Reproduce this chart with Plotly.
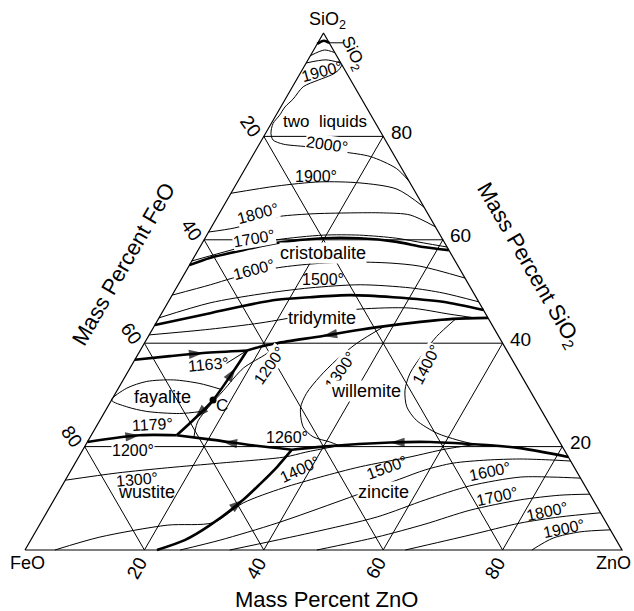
import math
import plotly.graph_objects as go

R3 = math.sqrt(3) / 2

# ---------------- data: each point is (mass % ZnO, mass % SiO2); mass % FeO = 100 - ZnO - SiO2 -------------
tick_values = [20, 40, 60, 80]
tick_text = ["20", "40", "60", "80"]

# thin liquidus isotherms
iso_apex_a = [(0.0, 95.6), (1.8, 96.7), (3.8, 96.2)]
iso_apex_1900 = [(0.0, 94.2), (3.0, 94.8), (5.8, 94.2)]
iso_2000_gap = [(6.2, 93.8), (6.1, 92.8), (5.4, 91.9), (3.7, 90.9), (1.8, 89.6), (1.3, 87.2), (0.7, 85.7),
                (0.6, 84.1), (0.3, 82.5), (0.9, 80.6), (1.9, 79.3), (4.0, 78.5), (8.2, 78.0), (14.8, 77.0),
                (19.8, 76.1), (25.3, 73.8), (28.7, 71.3)]
iso_1900 = [(0.0, 69.0), (7.0, 70.4), (13.8, 71.2), (20.6, 71.0), (27.4, 69.8), (33.7, 66.3)]
iso_1800 = [(0.0, 61.5), (4.0, 62.3), (9.7, 64.4), (15.2, 65.0), (21.9, 65.2), (27.4, 65.2), (32.1, 64.8), (37.5, 62.5)]
iso_1700 = [(0.0, 55.9), (7.2, 58.6), (12.2, 60.0), (19.5, 60.9), (25.6, 60.9), (32.1, 60.3), (37.0, 59.4), (41.4, 58.6)]
iso_1600 = [(0.0, 49.3), (5.4, 51.3), (8.5, 52.6), (14.6, 54.5), (20.1, 55.3), (26.6, 55.7), (33.4, 55.5),
            (38.7, 54.9), (47.4, 52.6)]
iso_1500 = [(0.0, 44.9), (7.1, 47.8), (14.6, 49.5), (22.4, 50.7), (30.5, 51.3), (39.2, 50.7), (45.2, 49.7), (52.0, 48.0)]
iso_1400_trid = [(0.0, 41.6), (9.6, 42.7), (17.4, 43.9), (25.0, 45.5), (32.8, 46.6), (41.1, 46.8), (48.4, 45.6),
                 (52.9, 44.9)]
iso_1200_fay = [(17.2, 31.1), (13.2, 32.2), (8.4, 32.9), (4.1, 32.6), (1.4, 31.3), (0.0, 29.0), (3.2, 27.7),
                (7.0, 26.8), (12.7, 26.4), (16.2, 26.8)]
iso_1200_wil = [(22.6, 40.2), (21.5, 38.0), (19.0, 35.2), (17.8, 30.8), (16.9, 27.5), (16.5, 25.0), (16.9, 23.2),
                (17.4, 21.8)]
iso_1300_wus = [(0.0, 13.5), (8.0, 14.9), (15.9, 15.9), (24.2, 16.8), (34.6, 18.0), (37.5, 18.9), (42.5, 20.2)]
iso_1300_wil = [(42.5, 20.2), (40.6, 20.9), (37.3, 21.9), (34.7, 23.8), (32.4, 27.5), (32.0, 30.3), (32.6, 33.5),
                (33.8, 36.8), (35.6, 40.0), (38.6, 43.3)]
iso_1400_zn = [(5.0, 0.0), (11.3, 2.5), (21.4, 4.8), (28.9, 5.3), (32.0, 9.1), (37.2, 12.0), (42.4, 14.1),
               (48.1, 16.1), (55.5, 18.0), (60.6, 19.5), (65.2, 20.4)]
iso_1400_wil = [(49.8, 44.7), (48.3, 41.3), (47.7, 38.0), (47.4, 34.2), (48.2, 30.9), (50.1, 27.7), (53.0, 25.1),
                (57.7, 22.6), (61.7, 21.3), (65.2, 20.4)]
iso_1500_zn = [(26.0, 0.0), (31.7, 1.9), (39.6, 5.2), (48.4, 9.7), (55.9, 13.7), (59.3, 15.5), (63.3, 16.8),
               (68.7, 17.4), (74.1, 17.6), (79.7, 17.4), (82.8, 17.2)]
iso_1600_zn = [(34.3, 0.0), (46.1, 3.3), (55.8, 6.4), (62.2, 9.7), (68.3, 12.4), (75.9, 14.1), (81.4, 14.1), (86.1, 13.9)]
iso_1700_zn = [(48.9, 0.0), (57.7, 2.5), (64.5, 5.0), (70.7, 7.7), (78.1, 9.7), (84.3, 10.6), (89.2, 10.8)]
iso_1800_zn = [(63.7, 0.0), (73.1, 2.9), (80.3, 5.2), (86.4, 6.4), (92.8, 7.2)]
iso_1900_zn = [(84.9, 0.0), (87.3, 2.3), (91.2, 3.5), (96.1, 3.9)]

# thick phase-field boundaries
bnd_apex = [(0.0, 97.9), (0.8, 98.5), (1.9, 98.1)]
bnd_upper = [(0.0, 55.1), (2.7, 56.5), (7.5, 58.0), (12.5, 59.4), (19.7, 60.3), (25.9, 60.3), (32.5, 59.6),
             (37.4, 58.6), (42.0, 58.0)]
bnd_cris_trid = [(0.0, 43.5), (8.1, 45.8), (12.9, 47.2), (18.0, 48.4), (23.3, 48.9), (29.8, 49.3), (37.2, 48.9),
                 (46.0, 48.0), (53.6, 46.4)]
bnd_trid_wil = [(55.1, 44.9), (49.3, 44.7), (39.9, 43.5), (34.8, 42.6), (29.2, 41.4), (22.2, 40.0), (19.7, 39.3),
                (17.9, 38.6)]
bnd_trid_fay = [(0.0, 36.8), (5.5, 37.5), (10.8, 38.1), (17.9, 38.6)]
bnd_fay_wil = [(14.3, 22.2), (15.6, 25.1), (17.0, 29.0), (17.7, 35.5), (17.9, 38.6)]
bnd_wus_fay = [(0.0, 20.9), (8.1, 22.2), (14.3, 22.2)]
bnd_wus_wil = [(14.3, 22.2), (20.9, 21.3), (27.5, 20.3), (35.0, 19.4)]
bnd_zn_wil = [(35.0, 19.4), (39.9, 20.0), (50.8, 20.8), (57.4, 20.9), (67.2, 20.3), (73.1, 19.7), (82.0, 18.0)]
bnd_zn_wus = [(22.1, 0.0), (25.8, 1.9), (28.6, 4.8), (31.7, 9.7), (33.0, 12.8), (34.2, 16.1), (35.0, 19.4)]

# arrows on boundaries: (point before, arrow tip)
arrows = [((34.8, 42.6), (29.2, 41.4)), ((5.5, 37.5), (10.8, 38.1)), ((17.0, 29.0), (17.7, 35.2)),
          ((17.0, 29.0), (15.7, 25.5)), ((4.0, 21.6), (8.1, 22.2)), ((27.5, 20.3), (22.7, 20.9)),
          ((57.4, 20.9), (50.8, 20.8)), ((28.6, 4.8), (31.7, 9.7))]
point_C = [(17.0, 29.0)]
leader_1163 = [(15.7, 36.1), (17.9, 38.6)]
leader_sio2 = [(1.9, 98.1), (4.2, 98.1)]

# text labels: (text, ZnO, SiO2, angle, masked, size)
labels = [
    ("two\u00a0\u00a0liquids", 8.9, 82.8, 0, True, 17), ("2000°", 11.3, 78.5, 8, True, 16),
    ("1900°", 3.4, 92.6, -15, False, 16), ("SiO<sub>2</sub>", 6.9, 96.0, 65, False, 17),
    ("1900°", 12.6, 72.3, 0, False, 16), ("1800°", 6.5, 65.0, -15, True, 16),
    ("1700°", 8.2, 60.3, -10, True, 16), ("cristobalite", 21.2, 57.4, 0, True, 18),
    ("1600°", 11.3, 54.2, -15, True, 16), ("1500°", 23.7, 52.4, 0, False, 16),
    ("tridymite", 27.3, 44.9, 0, True, 18), ("1163°", 12.8, 35.8, -5, False, 16),
    ("1200°", 23.2, 35.6, -55, True, 16), ("1300°", 35.4, 34.8, -55, True, 16),
    ("1400°", 49.4, 35.8, -62, True, 16), ("fayalite", 8.3, 29.6, 0, False, 18),
    ("C", 19.0, 28.0, 0, False, 17), ("willemite", 41.7, 30.8, 0, True, 18),
    ("1179°", 9.3, 24.2, -3, False, 16), ("1200°", 8.4, 19.3, 0, True, 16),
    ("1260°", 33.1, 21.7, 0, False, 16), ("1300°", 11.9, 13.7, -5, False, 16),
    ("wustite", 14.7, 11.2, 0, False, 18), ("1400°", 38.3, 15.5, -25, False, 16),
    ("1500°", 52.7, 15.9, -20, False, 16), ("zincite", 54.4, 11.2, 0, True, 18),
    ("1600°", 70.3, 15.1, -12, False, 16), ("1700°", 73.8, 10.4, -12, False, 16),
    ("1800°", 83.7, 7.5, -12, False, 16), ("1900°", 88.3, 4.1, -12, False, 16),
]

# ---------------- drawing ----------------
FONT = "Liberation Sans, Arial, sans-serif"


def to_xy(pts):
    xs = [z + s / 2 if z is not None else None for z, s in pts]
    ys = [s * R3 if s is not None else None for z, s in pts]
    return xs, ys


fig = go.Figure()


def add_line(pts, width, shape="spline"):
    x, y = to_xy(pts)
    fig.add_trace(go.Scatter(x=x, y=y, mode="lines", line=dict(color="black", width=width, shape=shape,
                                                                 smoothing=0.8), hoverinfo="skip"))


# grid
grid = []
for v in tick_values:
    grid += [(0, v), (100 - v, v), (None, None)]
    grid += [(v, 0), (v, 100 - v), (None, None)]
    grid += [(100 - v, 0), (0, 100 - v), (None, None)]
add_line(grid, 1, "linear")
add_line([(0, 0), (100, 0), (0, 100), (0, 0)], 1.2, "linear")

for c in [iso_apex_a, iso_apex_1900, iso_2000_gap, iso_1900, iso_1800, iso_1700, iso_1600, iso_1500,
          iso_1400_trid, iso_1200_fay, iso_1200_wil, iso_1300_wus, iso_1300_wil, iso_1400_zn, iso_1400_wil,
          iso_1500_zn, iso_1600_zn, iso_1700_zn, iso_1800_zn, iso_1900_zn]:
    add_line(c, 1)
for c in [leader_1163, leader_sio2]:
    add_line(c, 1, "linear")
for c in [bnd_apex, bnd_upper, bnd_cris_trid, bnd_trid_wil, bnd_trid_fay, bnd_fay_wil, bnd_wus_fay,
          bnd_wus_wil, bnd_zn_wil, bnd_zn_wus]:
    add_line(c, 2.6)

for prev, tip in arrows:
    x, y = to_xy([prev, tip])
    fig.add_trace(go.Scatter(x=x, y=y, mode="markers", hoverinfo="skip",
                             marker=dict(symbol="arrow", size=[0, 15], angleref="previous", color="black",
                                         line=dict(width=0))))
x, y = to_xy(point_C)
fig.add_trace(go.Scatter(x=x, y=y, mode="markers", marker=dict(size=7, color="black"), hoverinfo="skip"))

ann = []
for text, z, s, ang, masked, size in labels:
    x, y = to_xy([(z, s)])
    ann.append(dict(x=x[0], y=y[0], text=text, showarrow=False, textangle=ang,
                    font=dict(family=FONT, size=size, color="black"),
                    bgcolor="white" if masked else "rgba(0,0,0,0)", borderpad=0))

for v, t in zip(tick_values, tick_text):
    x, y = to_xy([(v, 0)])
    ann.append(dict(x=x[0], y=y[0], text=t, showarrow=False, textangle=-60, xshift=-8, yshift=-18,
                    font=dict(family=FONT, size=19, color="black")))
    x, y = to_xy([(0, 100 - v)])
    ann.append(dict(x=x[0], y=y[0], text=t, showarrow=False, textangle=55, xshift=-13, yshift=10,
                    font=dict(family=FONT, size=19, color="black")))
    x, y = to_xy([(100 - v, v)])
    ann.append(dict(x=x[0], y=y[0], text=t, showarrow=False, xshift=18, yshift=4,
                    font=dict(family=FONT, size=19, color="black")))

corner = [("SiO<sub>2</sub>", (0, 100), 4, 12), ("FeO", (0, 0), 2, -13), ("ZnO", (100, 0), -9, -13)]
for text, p, dx, dy in corner:
    x, y = to_xy([p])
    ann.append(dict(x=x[0], y=y[0], text=text, showarrow=False, xshift=dx, yshift=dy,
                    font=dict(family=FONT, size=18, color="black")))

titles = [("Mass Percent ZnO", (50, 0), 0, 3, -49), ("Mass Percent FeO", (0, 50), -60, -51, 27),
          ("Mass Percent SiO<sub>2</sub>", (50, 50), 60, 55, 26)]
for text, p, ang, dx, dy in titles:
    x, y = to_xy([p])
    ann.append(dict(x=x[0], y=y[0], text=text, showarrow=False, textangle=ang, xshift=dx, yshift=dy,
                    font=dict(family=FONT, size=22, color="black")))

W, H = 634, 611
PX = 5.97
fig.update_layout(
    width=W, height=H, autosize=False, showlegend=False,
    margin=dict(l=0, r=0, t=0, b=0, pad=0),
    paper_bgcolor="white", plot_bgcolor="white",
    xaxis=dict(visible=False, range=[-25 / PX, (W - 25) / PX], fixedrange=True),
    yaxis=dict(visible=False, range=[-(H - 550) / PX, 550 / PX], fixedrange=True),
    annotations=ann,
)
fig.write_html("out.html", config={"displayModeBar": False},
               post_script="document.body.style.margin='0';")
